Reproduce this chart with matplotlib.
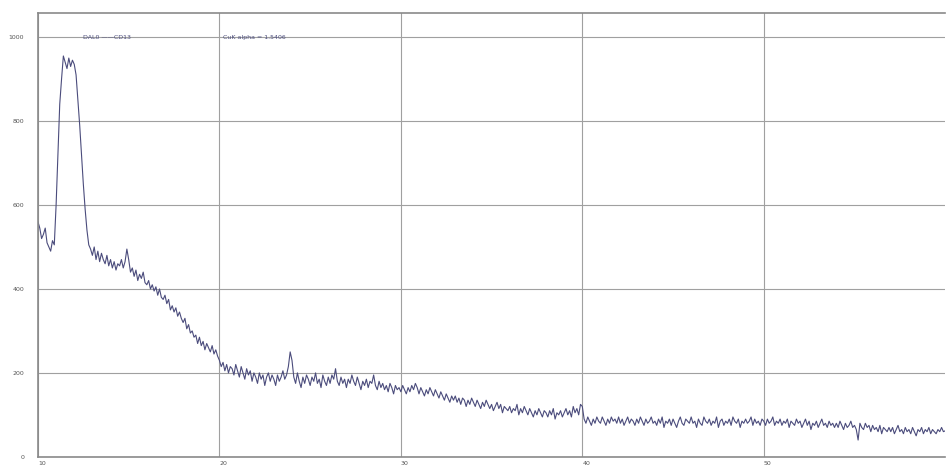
import numpy as np
import matplotlib.pyplot as plt

# diffraction scan, 2theta from 10 to 60 deg in 0.1 deg steps
theta_start = 10.0
theta_step = 0.1
intensity = [
    560, 545, 520, 530, 545, 510, 500, 490, 515, 505,
    600, 720, 840, 900, 955, 940, 925, 950, 930, 945,
    935, 910, 850, 790, 720, 650, 590, 540, 505, 495,
    480, 500, 470, 490, 465, 485, 470, 460, 480, 455,
    470, 450, 465, 445, 460, 455, 470, 450, 465, 495,
    470, 440, 450, 430, 445, 420, 435, 425, 440, 415,
    410, 420, 400, 410, 395, 405, 385, 400, 380, 375,
    385, 365, 375, 350, 360, 345, 355, 335, 345, 330,
    320, 330, 305, 315, 295, 300, 285, 290, 270, 285,
    265, 275, 255, 270, 260, 250, 265, 245, 255, 240,
    230, 215, 225, 205, 220, 200, 215, 210, 195, 220,
    205, 190, 215, 200, 185, 210, 195, 205, 180, 200,
    190, 175, 200, 185, 195, 170, 190, 200, 180, 195,
    185, 170, 195, 180, 190, 205, 185, 195, 215, 250,
    230, 190, 175, 200, 180, 165, 190, 175, 195, 185,
    170, 190, 180, 200, 175, 185, 165, 195, 180, 170,
    190, 175, 195, 185, 210, 180, 170, 190, 175, 185,
    165, 185, 175, 195, 180, 170, 190, 175, 160, 180,
    170, 185, 165, 180, 175, 195, 170, 160, 180, 165,
    175, 160, 170, 155, 175, 165, 150, 170, 160, 165,
    155, 170, 160, 150, 165, 155, 170, 160, 175, 165,
    150, 165, 155, 145, 160, 150, 165, 155, 145, 160,
    150, 140, 155, 145, 135, 150, 140, 130, 145, 135,
    145, 130, 140, 125, 140, 135, 120, 135, 125, 140,
    130, 120, 135, 125, 115, 130, 120, 135, 125, 115,
    125, 110, 120, 130, 115, 125, 105, 120, 115, 110,
    120, 105, 115, 110, 125, 100, 115, 105, 120, 110,
    100, 115, 105, 95, 110, 100, 115, 105, 95, 110,
    105, 95, 110, 100, 115, 90, 105, 100, 110, 95,
    105, 115, 100, 110, 95, 120, 105, 115, 100, 125,
    120, 90, 80, 95, 85, 75, 90, 80, 95, 85,
    80, 95, 85, 75, 90, 80, 95, 85, 90, 80,
    95, 80, 90, 75, 85, 95, 80, 90, 85, 75,
    90, 80, 95, 85, 75, 90, 80, 85, 95, 80,
    85, 75, 90, 80, 95, 70, 85, 80, 90, 75,
    90, 80, 70, 85, 95, 80, 75, 90, 85, 80,
    95, 80, 85, 70, 90, 80, 75, 95, 85, 80,
    90, 75, 85, 80, 95, 70, 85, 90, 75, 85,
    80, 90, 75, 95, 85, 80, 90, 70, 85, 80,
    90, 80, 85, 95, 75, 90, 80, 85, 75, 90,
    85, 75, 90, 80, 85, 95, 75, 85, 80, 90,
    75, 85, 80, 90, 70, 85, 80, 75, 90, 80,
    85, 70, 80, 90, 75, 85, 65, 80, 75, 85,
    70, 80, 90, 75, 80, 70, 85, 75, 80, 70,
    80, 70, 85, 75, 65, 80, 70, 75, 85, 70,
    75, 65, 40, 80, 70, 65, 80, 70, 75, 60,
    75, 65, 70, 60, 75, 55, 70, 65, 60, 70,
    60, 70, 55, 65, 75, 60, 65, 55, 70, 60,
    65, 55, 70, 60, 50, 65, 60, 70, 55, 65,
    60, 70, 55, 65, 60, 55, 65, 60, 70, 60,
    62,
]
two_theta = theta_start + theta_step * np.arange(len(intensity))

x_ticks = [10, 20, 30, 40, 50]
y_ticks = [0, 200, 400, 600, 800, 1000]
legend_left = 'DAL0 \u2014\u2014CD13'
legend_right = 'CuK alpha = 1.5406'

fig = plt.figure(figsize=(9.49, 4.70), dpi=100)
ax = fig.add_axes([0.040, 0.028, 0.956, 0.944])

ax.plot(two_theta, intensity, color='#4b4c7c', linewidth=0.8)

ax.set_xlim(10, 60)
ax.set_ylim(0, 1057)
ax.set_xticks(x_ticks)
ax.set_yticks(y_ticks)
ax.set_xticklabels([str(t) for t in x_ticks], ha='left')
ax.tick_params(axis='both', length=0, labelsize=4.5, labelcolor='#555555')
ax.tick_params(axis='y', pad=10)
ax.tick_params(axis='x', pad=3)
ax.grid(True, color='#a0a0a0', linewidth=0.8)
ax.set_axisbelow(True)

for side in ['left', 'bottom', 'top']:
    ax.spines[side].set_color('#8a8a8a')
    ax.spines[side].set_linewidth(1.2)
ax.spines['right'].set_visible(False)

ax.text(12.5, 1000, legend_left, fontsize=4.5, color='#4b4c7c', va='center')
ax.text(20.2, 1000, legend_right, fontsize=4.5, color='#4b4c7c', va='center')

fig.savefig('out.png', dpi=100)
